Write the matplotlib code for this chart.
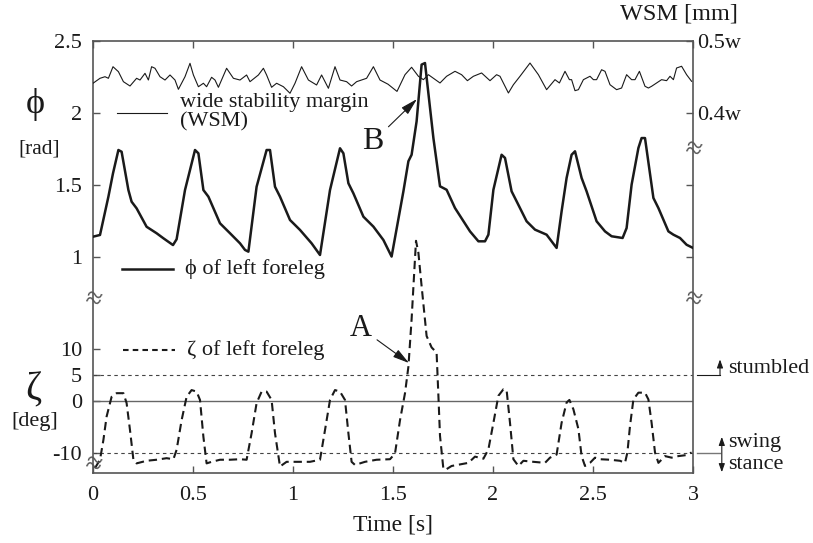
#!/usr/bin/env python3
"""Foreleg joint angle, stumble angle and WSM over time (broken-axis figure)."""

from __future__ import annotations

import matplotlib
matplotlib.use("Agg")
import matplotlib.pyplot as plt
import numpy as np

plt.rcParams["font.family"] = ["Liberation Serif", "DejaVu Serif"]
plt.rcParams["lines.scale_dashes"] = False

# phi of left foreleg [rad]
PHI_T = [
  0.000, 0.035, 0.077, 0.100, 0.127, 0.143, 0.177, 0.193, 0.218, 0.268, 0.318, 0.352,
  0.400, 0.418, 0.460, 0.510, 0.527, 0.552, 0.577, 0.635, 0.685, 0.735, 0.760, 0.777,
  0.818, 0.868, 0.885, 0.910, 0.935, 0.985, 1.035, 1.093, 1.135, 1.185, 1.235, 1.252,
  1.277, 1.302, 1.352, 1.402, 1.452, 1.493, 1.552, 1.577, 1.593, 1.618, 1.643, 1.660,
  1.702, 1.735, 1.768, 1.810, 1.885, 1.927, 1.960, 1.977, 2.002, 2.043, 2.060, 2.093,
  2.118, 2.168, 2.210, 2.268, 2.318, 2.343, 2.368, 2.393, 2.410, 2.443, 2.468, 2.518,
  2.560, 2.593, 2.648, 2.668, 2.693, 2.727, 2.743, 2.760, 2.802, 2.827, 2.877, 2.902,
  2.935, 2.968, 3.000,
]
PHI = [
  1.141, 1.153, 1.419, 1.581, 1.743, 1.731, 1.465, 1.384, 1.338, 1.210, 1.165, 1.130,
  1.083, 1.123, 1.465, 1.743, 1.720, 1.465, 1.419, 1.234, 1.165, 1.095, 1.049, 1.037,
  1.488, 1.743, 1.743, 1.488, 1.419, 1.257, 1.188, 1.095, 1.014, 1.465, 1.755, 1.720,
  1.512, 1.442, 1.280, 1.211, 1.118, 1.003, 1.456, 1.665, 1.710, 1.942, 2.336, 2.347,
  1.826, 1.491, 1.467, 1.340, 1.178, 1.109, 1.109, 1.155, 1.467, 1.710, 1.688, 1.456,
  1.387, 1.248, 1.190, 1.155, 1.063, 1.317, 1.549, 1.710, 1.734, 1.549, 1.456, 1.248,
  1.178, 1.144, 1.132, 1.201, 1.502, 1.757, 1.826, 1.826, 1.410, 1.340, 1.178, 1.155,
  1.132, 1.085, 1.063,
]

# wide stability margin [w]
WSM_T = [
  0.000, 0.035, 0.060, 0.077, 0.100, 0.127, 0.152, 0.185, 0.218, 0.235, 0.260, 0.277,
  0.293, 0.310, 0.335, 0.360, 0.385, 0.410, 0.427, 0.460, 0.485, 0.502, 0.527, 0.552,
  0.568, 0.593, 0.610, 0.627, 0.668, 0.702, 0.735, 0.768, 0.785, 0.827, 0.852, 0.868,
  0.893, 0.918, 0.952, 0.985, 1.010, 1.043, 1.077, 1.118, 1.143, 1.177, 1.210, 1.235,
  1.268, 1.293, 1.318, 1.368, 1.402, 1.435, 1.475, 1.520, 1.560, 1.593, 1.627, 1.652,
  1.677, 1.735, 1.768, 1.810, 1.843, 1.872, 1.902, 1.943, 1.985, 2.018, 2.035, 2.077,
  2.102, 2.135, 2.185, 2.227, 2.268, 2.310, 2.332, 2.360, 2.382, 2.393, 2.410, 2.427,
  2.452, 2.485, 2.502, 2.518, 2.543, 2.560, 2.585, 2.618, 2.643, 2.668, 2.693, 2.710,
  2.732, 2.760, 2.777, 2.793, 2.818, 2.843, 2.868, 2.885, 2.902, 2.918, 2.943, 2.968,
  2.993,
]
WSM = [
  0.4413, 0.4482, 0.4504, 0.4482, 0.4643, 0.4574, 0.4435, 0.4375, 0.4482, 0.4458, 0.4551, 0.4458,
  0.4643, 0.4621, 0.4504, 0.4458, 0.4528, 0.4458, 0.4329, 0.4504, 0.4690, 0.4528, 0.4365, 0.4413,
  0.4365, 0.4496, 0.4458, 0.4357, 0.4621, 0.4482, 0.4458, 0.4528, 0.4435, 0.4528, 0.4621, 0.4528,
  0.4357, 0.4413, 0.4365, 0.4274, 0.4413, 0.4643, 0.4458, 0.4389, 0.4528, 0.4343, 0.4643, 0.4458,
  0.4435, 0.4375, 0.4435, 0.4482, 0.4643, 0.4458, 0.4400, 0.4300, 0.4532, 0.4635, 0.4510, 0.4463,
  0.4532, 0.4417, 0.4510, 0.4579, 0.4532, 0.4449, 0.4510, 0.4556, 0.4449, 0.4532, 0.4510, 0.4278,
  0.4393, 0.4510, 0.4694, 0.4532, 0.4324, 0.4463, 0.4417, 0.4579, 0.4463, 0.4463, 0.4310, 0.4324,
  0.4463, 0.4510, 0.4463, 0.4463, 0.4601, 0.4579, 0.4393, 0.4324, 0.4347, 0.4532, 0.4463, 0.4463,
  0.4579, 0.4371, 0.4347, 0.4371, 0.4417, 0.4463, 0.4449, 0.4510, 0.4463, 0.4625, 0.4649, 0.4532,
  0.4440,
]

# zeta of left foreleg [deg]
ZETA_T = [
  0.010, 0.035, 0.052, 0.068, 0.093, 0.118, 0.152, 0.168, 0.185, 0.202, 0.218, 0.268,
  0.318, 0.368, 0.402, 0.418, 0.443, 0.468, 0.493, 0.518, 0.535, 0.552, 0.568, 0.593,
  0.635, 0.685, 0.735, 0.768, 0.793, 0.818, 0.843, 0.868, 0.893, 0.910, 0.935, 0.968,
  1.018, 1.085, 1.135, 1.160, 1.185, 1.210, 1.235, 1.260, 1.277, 1.293, 1.310, 1.360,
  1.418, 1.485, 1.510, 1.535, 1.560, 1.577, 1.593, 1.605, 1.615, 1.627, 1.643, 1.668,
  1.693, 1.718, 1.727, 1.735, 1.752, 1.768, 1.793, 1.835, 1.877, 1.910, 1.952, 1.977,
  2.002, 2.027, 2.052, 2.068, 2.085, 2.102, 2.127, 2.152, 2.202, 2.260, 2.285, 2.318,
  2.343, 2.368, 2.382, 2.402, 2.427, 2.443, 2.460, 2.485, 2.510, 2.535, 2.585, 2.635,
  2.660, 2.672, 2.685, 2.702, 2.727, 2.760, 2.777, 2.793, 2.810, 2.827, 2.860, 2.893,
  2.927, 2.968, 2.993,
]
ZETA = [
  -12.9, -11.3, -7.5, -3.0, 0.8, 1.5, 1.5, -0.4, -5.6, -11.3, -12.0, -11.5,
  -11.3, -11.0, -11.2, -9.4, -3.7, 0.8, 2.1, 1.8, 0.2, -6.9, -12.0, -11.7,
  -11.3, -11.3, -11.2, -11.3, -6.2, -0.4, 1.8, 1.8, 0.2, -6.2, -12.6, -11.7,
  -11.7, -11.7, -11.3, -5.6, 0.2, 2.1, 1.8, 0.2, -6.2, -11.7, -12.3, -11.7,
  -11.3, -11.2, -10.1, -3.7, 1.5, 6.6, 15.7, 24.0, 30.8, 28.5, 22.1, 12.5,
  10.3, 9.3, 1.0, -6.7, -13.1, -13.1, -12.5, -12.2, -11.9, -10.7, -11.1, -9.3,
  -4.2, 1.0, 2.25, 2.1, -4.2, -11.2, -12.5, -11.5, -11.7, -11.9, -10.9, -10.3,
  -4.2, -0.3, 0.2, -1.6, -5.4, -10.6, -12.5, -11.9, -10.9, -11.2, -11.3, -11.5,
  -11.9, -9.9, -4.8, 0.3, 1.6, 1.6, 0.3, -4.2, -9.9, -11.9, -10.6, -10.9,
  -10.6, -10.4, -9.9,
]

X_TICKS = [0, 0.5, 1, 1.5, 2, 2.5, 3]
X_LABELS = ["0", "0.5", "1", "1.5", "2", "2.5", "3"]
PHI_TICKS = [1, 1.5, 2, 2.5]
PHI_LABELS = ["1", "1.5", "2", "2.5"]
ZETA_TICKS = [-10, 0, 5, 10]
ZETA_LABELS = ["-10", "0", "5", "10"]
WSM_TICKS = [0.2, 0.3, 0.4, 0.5]
WSM_LABELS = ["", "", "0.4w", "0.5w"]

STUMBLE_LEVEL = 5
STANCE_LEVEL = -10

INK = "#1a1a1a"
SPINE = "#555555"


def style_ticks(axis, **kw) -> None:
  axis.tick_params(direction="in", length=5, width=1.0, color=SPINE,
                   labelsize=16, labelcolor=INK, **kw)


def main() -> None:
  fig = plt.figure(figsize=(8.13, 5.43), dpi=100)
  ax = fig.add_axes([93 / 813, 1 - 473 / 543, 600 / 813, 432 / 543])

  # zeta shares the frame; phi and WSM ride on twin y scales
  ax.set_xlim(0, 3)
  ax.set_ylim(-13.85, 69.23)
  ax.set_xticks(X_TICKS, X_LABELS)
  ax.set_yticks(ZETA_TICKS, ZETA_LABELS)
  style_ticks(ax, top=True, right=True, labelright=False, pad=8)
  ax.tick_params(axis="x", pad=9)
  for spine in ax.spines.values():
    spine.set_color(SPINE)
    spine.set_linewidth(1.2)

  ax_phi = ax.twinx()
  ax_phi.set_ylim(-0.5, 2.5)
  ax_phi.yaxis.tick_left()
  ax_phi.set_yticks(PHI_TICKS, PHI_LABELS)
  style_ticks(ax_phi, pad=8)

  ax_w = ax.twinx()
  ax_w.set_ylim(-0.1, 0.5)
  ax_w.set_yticks(WSM_TICKS, WSM_LABELS)
  style_ticks(ax_w, pad=3)

  for twin in (ax_phi, ax_w):
    for spine in twin.spines.values():
      spine.set_visible(False)

  # reference levels
  ax.axhline(STUMBLE_LEVEL, color="#444444", lw=0.8, dashes=(2.5, 2.5))
  ax.axhline(STANCE_LEVEL, color="#444444", lw=0.8, dashes=(2.5, 2.5))
  ax.axhline(0, color="#666666", lw=1.0)

  ax.plot(ZETA_T, ZETA, color=INK, lw=1.5, dashes=(6, 3.5))
  ax_phi.plot(PHI_T, PHI, color=INK, lw=1.8)
  ax_w.plot(WSM_T, WSM, color=INK, lw=0.8)

  # legend keys
  tr = ax.transAxes
  ax.plot([0.040, 0.123], [0.833, 0.833], color=INK, lw=0.8, transform=tr)
  ax.text(0.145, 0.835, "wide stability margin\n(WSM)", transform=tr, fontsize=16,
          va="center", ha="left", linespacing=1.05, color=INK)
  ax.plot([0.048, 0.133], [0.472, 0.472], color=INK, lw=1.8, transform=tr)
  ax.text(0.153, 0.472, "ϕ of left foreleg", transform=tr, fontsize=16,
          va="center", ha="left", color=INK)
  ax.plot([0.050, 0.137], [0.285, 0.285], color=INK, lw=1.5, dashes=(4, 3), transform=tr)
  ax.text(0.157, 0.285, "ζ of left foreleg", transform=tr, fontsize=16,
          va="center", ha="left", color=INK)

  # point labels
  arrow = dict(arrowstyle="-|>,head_length=0.45,head_width=0.12", color=INK, lw=0.8,
               shrinkA=2, shrinkB=0)
  ax_phi.annotate("B", xy=(1.62, 2.097), xytext=(1.40, 1.80), fontsize=23,
                  ha="center", va="center", color=INK, arrowprops=arrow)
  ax.annotate("A", xy=(1.58, 7.3), xytext=(1.34, 14.0), fontsize=22,
              ha="center", va="center", color=INK, arrowprops=arrow)

  # axis titles
  ax.text(-0.097, 0.852, "ϕ", transform=tr, fontsize=26, ha="center", va="center", color=INK)
  ax.text(-0.09, 0.75, "[rad]", transform=tr, fontsize=15.5, ha="center", va="center", color=INK)
  ax.text(-0.10, 0.192, "ζ", transform=tr, fontsize=28, ha="center", va="center", color=INK)
  ax.text(-0.097, 0.12, "[deg]", transform=tr, fontsize=16, ha="center", va="center", color=INK)
  ax.text(0.977, 1.062, "WSM [mm]", transform=tr, fontsize=17.5, ha="center", va="center", color=INK)
  ax.set_xlabel("Time [s]", fontsize=17, color=INK, labelpad=7)

  # axis break marks
  yt = ax.get_yaxis_transform()
  for xb, yb in ((0.0, 19.4), (0.0, -12.3), (1.0, 19.4), (1.0, 48.3)):
    ax.text(xb, yb, "≈", transform=yt, fontsize=21, ha="center", va="center",
            rotation=-15, color=SPINE, clip_on=False)

  # stumbled / swing / stance markers
  ax.plot([1.0067, 1.045], [STUMBLE_LEVEL, STUMBLE_LEVEL], color=INK, lw=0.8,
          transform=yt, clip_on=False)
  ax.annotate("", xy=(1.045, 8.0), xytext=(1.045, STUMBLE_LEVEL), xycoords=yt,
              textcoords=yt, annotation_clip=False,
              arrowprops=dict(arrowstyle="-|>,head_length=0.5,head_width=0.18",
                              color=INK, lw=0.8, shrinkA=0, shrinkB=0))
  ax.text(1.058, 6.3, "stumbled", transform=yt, fontsize=16, va="center", color=INK)

  ax.plot([1.0067, 1.045], [STANCE_LEVEL, STANCE_LEVEL], color="#777777", lw=1.0,
          transform=yt, clip_on=False)
  ax.annotate("", xy=(1.048, -6.9), xytext=(1.048, -13.7), xycoords=yt,
              textcoords=yt, annotation_clip=False,
              arrowprops=dict(arrowstyle="<|-|>,head_length=0.5,head_width=0.18",
                              color=INK, lw=0.8, shrinkA=0, shrinkB=0))
  ax.text(1.058, -7.9, "swing", transform=yt, fontsize=16, va="center", color=INK)
  ax.text(1.058, -12.3, "stance", transform=yt, fontsize=16, va="center", color=INK)

  fig.savefig("out.png", dpi=100, facecolor="white")
  plt.close(fig)


if __name__ == "__main__":
  main()
